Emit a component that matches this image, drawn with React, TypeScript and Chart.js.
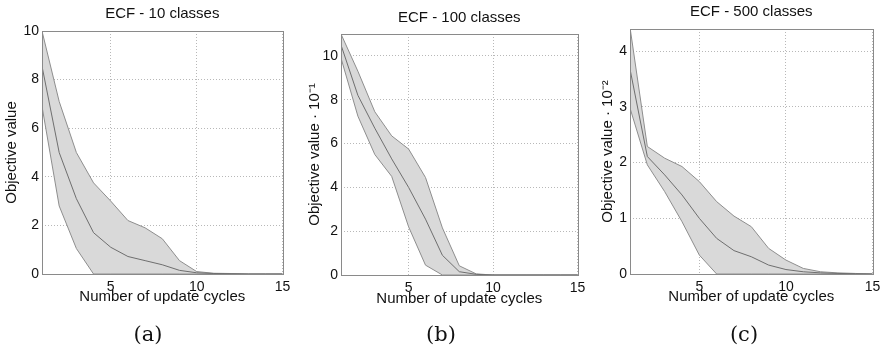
import React, { useEffect, useRef } from "react";
import { Chart, registerables } from "chart.js";

Chart.register(...registerables);

// ---------- data ----------
const cycles = [1, 2, 3, 4, 5, 6, 7, 8, 9, 10, 11, 12, 13, 14, 15];
const xTickValues = [5, 10, 15];

const yTicksA = [0, 2, 4, 6, 8, 10];
const upperA = [10, 7.1, 5.0, 3.75, 3.0, 2.2, 1.9, 1.45, 0.55, 0.1, 0.03, 0.02, 0, 0, 0];
const meanA = [8.55, 5.0, 3.1, 1.7, 1.1, 0.72, 0.55, 0.38, 0.15, 0.05, 0.02, 0.01, 0, 0, 0];
const lowerA = [6.9, 2.8, 1.05, 0, 0, 0, 0, 0, 0, 0, 0, 0, 0, 0, 0];

const yTicksB = [0, 2, 4, 6, 8, 10];
const upperB = [11.0, 9.3, 7.45, 6.35, 5.75, 4.45, 2.15, 0.42, 0.05, 0, 0, 0, 0, 0, 0];
const meanB = [10.5, 8.2, 6.7, 5.3, 4.0, 2.55, 0.9, 0.15, 0.03, 0, 0, 0, 0, 0, 0];
const lowerB = [9.9, 7.25, 5.5, 4.5, 2.2, 0.45, 0, 0, 0, 0, 0, 0, 0, 0, 0];

const yTicksC = [0, 1, 2, 3, 4];
const upperC = [4.43, 2.29, 2.08, 1.93, 1.66, 1.3, 1.04, 0.85, 0.46, 0.25, 0.1, 0.04, 0.02, 0.01, 0];
const meanC = [3.68, 2.11, 1.78, 1.42, 1.0, 0.64, 0.42, 0.31, 0.16, 0.08, 0.04, 0.02, 0.01, 0.005, 0];
const lowerC = [2.98, 1.96, 1.48, 0.94, 0.34, 0, 0, 0, 0, 0, 0, 0, 0, 0, 0];

const titles = ["ECF - 10 classes", "ECF - 100 classes", "ECF - 500 classes"];
const yTitles = ["Objective value", "Objective value · 10⁻¹", "Objective value · 10⁻²"];
const xTitle = "Number of update cycles";
const captions = ["(a)", "(b)", "(c)"];
const yMaxes = [10, 11, 4.4];

// ---------- layout / style ----------
const FONT = "'Liberation Sans', Arial, Helvetica, sans-serif";
const TEXT = "#111111";
const FILL = "#d9d9d9";
const EDGE = "#8e8e8e";
const MEAN = "#6e6e6e";
const FRAME = "#8a8a8a";
const GRID = "#b8b8b8";
const H = 353;

type Panel = {
  left: number;
  width: number;
  plotLeft: number; // relative to canvas
  plotRight: number;
  plotTop: number;
  plotBottom: number;
  titleY: number;
  yTitleX: number;
  xTitleY: number;
  captionX: number;
  title: string;
  yTitle: string;
  yMax: number;
  yTicks: number[];
  upper: number[];
  mean: number[];
  lower: number[];
  caption: string;
};

const panels: Panel[] = [
  {
    left: 0, width: 295, plotLeft: 42, plotRight: 287, plotTop: 31, plotBottom: 274,
    titleY: 13.5, yTitleX: 12, xTitleY: 296.5, captionX: 148,
    title: titles[0], yTitle: yTitles[0], yMax: yMaxes[0], yTicks: yTicksA,
    upper: upperA, mean: meanA, lower: lowerA, caption: captions[0],
  },
  {
    left: 295, width: 295, plotLeft: 46, plotRight: 288, plotTop: 34, plotBottom: 275,
    titleY: 18, yTitleX: 19.5, xTitleY: 298.5, captionX: 441 - 295,
    title: titles[1], yTitle: yTitles[1], yMax: yMaxes[1], yTicks: yTicksB,
    upper: upperB, mean: meanB, lower: lowerB, caption: captions[1],
  },
  {
    left: 590, width: 295, plotLeft: 40, plotRight: 287, plotTop: 29, plotBottom: 274,
    titleY: 12, yTitleX: 17.5, xTitleY: 296.5, captionX: 744 - 590,
    title: titles[2], yTitle: yTitles[2], yMax: yMaxes[2], yTicks: yTicksC,
    upper: upperC, mean: meanC, lower: lowerC, caption: captions[2],
  },
];

const framePlugin = {
  id: "frame",
  afterDatasetsDraw(chart: any) {
    const { ctx, chartArea: a } = chart;
    ctx.save();
    ctx.strokeStyle = FRAME;
    ctx.lineWidth = 1;
    ctx.strokeRect(
      Math.round(a.left) + 0.5,
      Math.round(a.top) + 0.5,
      Math.round(a.right - a.left),
      Math.round(a.bottom - a.top)
    );
    ctx.restore();
  },
};

function PanelChart({ p }: { p: Panel }) {
  const ref = useRef<HTMLCanvasElement | null>(null);

  useEffect(() => {
    if (!ref.current) return;
    const titleSize = 15;
    const titleLH = titleSize * 1.2;
    const axisTitleSize = 15;
    const axisLH = axisTitleSize * 1.2;
    const tickSize = 14;
    const tickLH = tickSize * 1.2;

    const titlePadTop = p.titleY - titleLH / 2;
    const titlePadBottom = p.plotTop - titlePadTop - titleLH;
    const xScaleH = H - p.plotBottom;
    const xTitlePadBottom = H - p.xTitleY - axisLH / 2;
    const yTitlePadTop = p.yTitleX - axisLH / 2;

    const pts = (arr: number[]) => cycles.map((c, i) => ({ x: c, y: arr[i] }));

    const chart = new Chart(ref.current, {
      type: "line",
      data: {
        datasets: [
          {
            label: "lower",
            data: pts(p.lower),
            borderColor: EDGE,
            borderWidth: 1,
            pointRadius: 0,
            fill: false,
            tension: 0,
            order: 2,
          },
          {
            label: "upper",
            data: pts(p.upper),
            borderColor: EDGE,
            borderWidth: 1,
            pointRadius: 0,
            backgroundColor: FILL,
            fill: "-1",
            tension: 0,
            order: 2,
          },
          {
            label: "mean",
            data: pts(p.mean),
            borderColor: MEAN,
            borderWidth: 1,
            pointRadius: 0,
            fill: false,
            tension: 0,
            order: 1,
          },
        ],
      },
      options: {
        animation: false,
        responsive: false,
        devicePixelRatio: 1,
        layout: {
          padding: { left: 0, right: p.width - p.plotRight, top: 0, bottom: 0 },
        },
        plugins: {
          legend: { display: false },
          tooltip: { enabled: false },
          title: {
            display: true,
            text: p.title,
            fullSize: false,
            color: TEXT,
            font: { family: FONT, size: titleSize, weight: "normal", lineHeight: 1.2 },
            padding: { top: titlePadTop, bottom: titlePadBottom },
          },
        },
        scales: {
          x: {
            type: "linear",
            min: 1,
            max: 15,
            afterBuildTicks: (s: any) => {
              s.ticks = xTickValues.map((v) => ({ value: v }));
            },
            afterFit: (s: any) => {
              s.height = xScaleH;
            },
            grid: { color: GRID, lineWidth: 1, drawTicks: false },
            border: { display: false, dash: [1, 2] },
            ticks: {
              color: TEXT,
              font: { family: FONT, size: tickSize, lineHeight: 1.2 },
              padding: 13 - tickLH / 2,
              maxRotation: 0,
              autoSkip: false,
            },
            title: {
              display: true,
              text: xTitle,
              color: TEXT,
              font: { family: FONT, size: axisTitleSize, lineHeight: 1.2 },
              padding: { top: 0, bottom: xTitlePadBottom },
            },
          },
          y: {
            type: "linear",
            min: 0,
            max: p.yMax,
            afterBuildTicks: (s: any) => {
              s.ticks = p.yTicks.map((v) => ({ value: v }));
            },
            afterFit: (s: any) => {
              s.width = p.plotLeft;
            },
            grid: { color: GRID, lineWidth: 1, drawTicks: false },
            border: { display: false, dash: [1, 2] },
            ticks: {
              color: TEXT,
              font: { family: FONT, size: tickSize, lineHeight: 1.2 },
              padding: 3,
              autoSkip: false,
            },
            title: {
              display: true,
              text: p.yTitle,
              color: TEXT,
              font: { family: FONT, size: axisTitleSize, lineHeight: 1.2 },
              padding: { top: yTitlePadTop, bottom: 0 },
            },
          },
        },
      },
      plugins: [framePlugin],
    } as any);

    return () => chart.destroy();
  }, [p]);

  return (
    <div style={{ position: "absolute", left: p.left, top: 0, width: p.width, height: H }}>
      <canvas ref={ref} width={p.width} height={H} style={{ width: p.width, height: H, display: "block" }} />
      <div
        style={{
          position: "absolute",
          left: p.captionX - 50,
          top: 320,
          width: 100,
          height: 28,
          lineHeight: "28px",
          textAlign: "center",
          fontFamily: "'DejaVu Serif', 'Liberation Serif', serif",
          fontSize: 21,
          color: TEXT,
        }}
      >
        {p.caption}
      </div>
    </div>
  );
}

export default function App() {
  return (
    <div
      style={{
        position: "fixed",
        left: 0,
        top: 0,
        width: 885,
        height: H,
        background: "#ffffff",
        overflow: "hidden",
      }}
    >
      {panels.map((p, i) => (
        <PanelChart key={i} p={p} />
      ))}
    </div>
  );
}
